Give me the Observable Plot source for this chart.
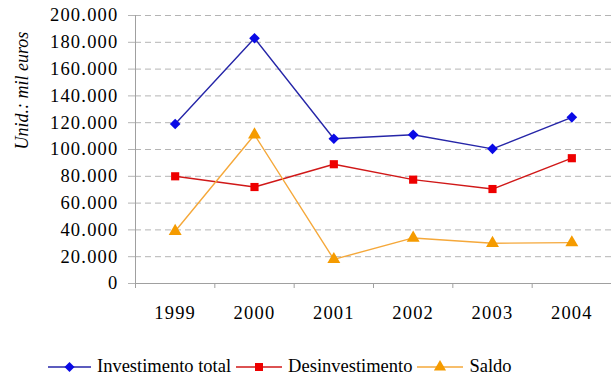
<!DOCTYPE html>
<html>
<head>
<meta charset="utf-8">
<script src="https://cdn.jsdelivr.net/npm/d3@7"></script>
<script src="https://cdn.jsdelivr.net/npm/@observablehq/plot@0.6"></script>
<style>
  html, body { margin: 0; padding: 0; background: #fff; font-family: 'Liberation Serif'; }
  #wrap { width: 611px; height: 387px; position: relative; overflow: hidden; }
  #legend { position: absolute; left: 48px; top: 356px; display: flex; align-items: center;
            font-family: 'Liberation Serif'; font-size: 18.5px; color: #000; white-space: nowrap; }
  #legend .item { display: flex; align-items: center; margin-right: 5px; }
  #legend svg { margin-right: 6px; }
</style>
</head>
<body>
<div id="wrap"></div>
<script>
const years = [1999, 2000, 2001, 2002, 2003, 2004];
const investimento = [119000, 183000, 108000, 111000, 100500, 124000];
const desinvestimento = [80000, 72000, 89000, 77500, 70500, 93500];
const saldo = [39000, 111000, 18000, 34000, 30000, 30500];
const seriesNames = ["Investimento total", "Desinvestimento", "Saldo"];
const lineColors = ["#2626a8", "#d01818", "#f5a83a"];
const markerColors = ["#0a0ae6", "#ee0000", "#f59b00"];
const symbols = ["diamond2", "square", "triangle"];
const yTicks = [0, 20000, 40000, 60000, 80000, 100000, 120000, 140000, 160000, 180000, 200000];
const yLabel = "Unid.: mil euros";

const seriesValues = [investimento, desinvestimento, saldo];
const rows = seriesValues.flatMap((vals, s) => years.map((yr, i) => ({series: seriesNames[s], year: yr, value: vals[i]})));
const edges = [years[0] - 0.5, ...years.map(y => y + 0.5)];

const fmt = d3.formatLocale({decimal: ",", thousands: ".", grouping: [3], currency: ["", ""]}).format(",");
const serif = "Liberation Serif";

const marks = [
  Plot.gridY(yTicks.filter(d => d > 0), {stroke: "#b4b4b4", strokeOpacity: 1, strokeDasharray: "6,4"}),
  Plot.axisY(yTicks, {tickSize: 7, tickPadding: 10, tickFormat: fmt, stroke: "#b4b4b4", fill: "#000", label: null, fontFamily: serif}),
  Plot.ruleX(edges.slice(0, 1), {stroke: "#a0a0a0"}),
  Plot.ruleY([0], {stroke: "#a0a0a0"}),
  Plot.axisX(edges, {tickSize: 5, tickFormat: () => "", stroke: "#a0a0a0", label: null}),
  Plot.axisX(years, {tickSize: 0, tickPadding: 22, tickFormat: d => String(d), fill: "#000", label: null, fontFamily: serif}),
  Plot.text([yLabel], {frameAnchor: "left", dx: -113, rotate: -90, fontStyle: "italic", fontSize: 18, fontFamily: serif, fill: "#000"})
];
seriesNames.forEach((name, s) => {
  const data = rows.filter(r => r.series === name);
  marks.push(Plot.line(data, {x: "year", y: "value", stroke: lineColors[s], strokeWidth: 1.4}));
  marks.push(Plot.dot(data, {x: "year", y: "value", symbol: () => symbols[s], fill: markerColors[s], stroke: "none", r: s === 1 ? 4.6 : 4.8}));
});

const chart = Plot.plot({
  width: 611, height: 340,
  marginTop: 15, marginBottom: 57, marginLeft: 135, marginRight: 0,
  x: {domain: [edges[0], edges[edges.length - 1]]},
  y: {domain: [0, 200000]},
  symbol: {type: "identity"},
  style: {fontFamily: serif, fontSize: "18.5px", color: "#000", background: "#fff"},
  marks
});
const wrap = document.getElementById("wrap");
wrap.appendChild(chart);
chart.querySelectorAll('[aria-label="y-axis tick label"] text, [aria-label="x-axis tick label"] text').forEach(t => t.setAttribute("letter-spacing", "1.2px"));

const legend = document.createElement("div");
legend.id = "legend";
const symPath = [d3.symbolDiamond2, d3.symbolSquare, d3.symbolTriangle];
const swatchW = [43, 46, 46];
seriesNames.forEach((name, s) => {
  const item = document.createElement("div");
  item.className = "item";
  const w = swatchW[s];
  const sw = d3.create("svg").attr("width", w).attr("height", 14);
  sw.append("line").attr("x1", 0).attr("x2", w).attr("y1", 7).attr("y2", 7).attr("stroke", lineColors[s]).attr("stroke-width", 1.6);
  sw.append("path").attr("transform", `translate(${w / 2},7)`).attr("d", d3.symbol(symPath[s], 64)()).attr("fill", markerColors[s]);
  item.appendChild(sw.node());
  const label = document.createElement("span");
  label.textContent = name;
  item.appendChild(label);
  legend.appendChild(item);
});
wrap.appendChild(legend);
</script>
</body>
</html>
